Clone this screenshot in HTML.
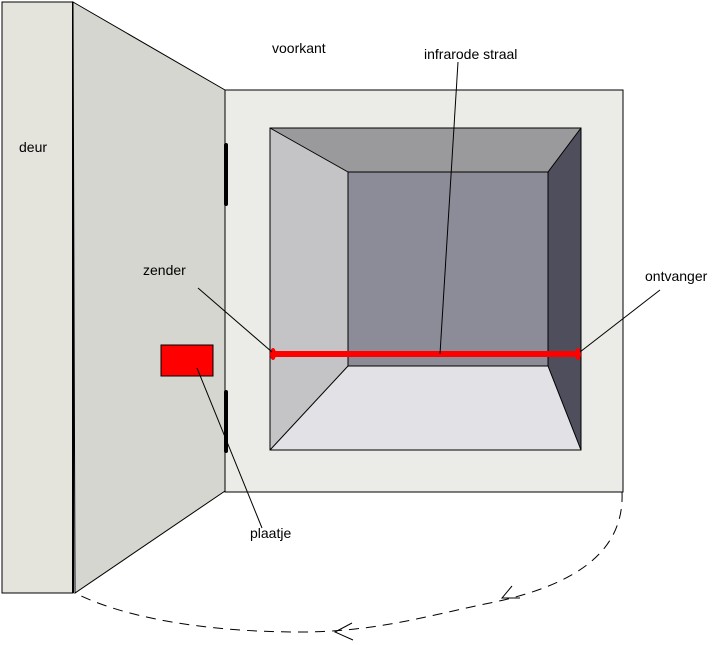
<!DOCTYPE html>
<html><head><meta charset="utf-8"><style>
html,body{margin:0;padding:0;background:#fff;}
svg{display:block;}
text{font-family:"Liberation Sans",sans-serif;font-size:14px;fill:#000;}
</style></head><body>
<svg width="724" height="645" viewBox="0 0 724 645">
<rect x="2" y="2" width="71" height="591" fill="#e4e4dc" stroke="#000" stroke-width="1"/>
<line x1="73" y1="2" x2="73" y2="593" stroke="#000" stroke-width="2"/>
<polygon points="73,2 225,90 225,491 75,593" fill="#d6d6d0" stroke="#000" stroke-width="1"/>
<rect x="225" y="90" width="398" height="402" fill="#ebebe8" stroke="#000" stroke-width="1"/>
<rect x="270" y="128" width="311" height="322" fill="#bfbfc0"/>
<polygon points="270,128 581,128 548,172 348,172" fill="#9a9a9c"/>
<polygon points="581,128 581,450 548,366 548,172" fill="#4e4e5c"/>
<polygon points="270,450 581,450 548,366 348,366" fill="#e2e2e6"/>
<polygon points="270,128 348,172 348,366 270,450" fill="#c4c4c6"/>
<rect x="348" y="172" width="200" height="194" fill="#8c8c98" stroke="#000" stroke-width="1"/>
<line x1="270" y1="128" x2="348" y2="172" stroke="#000"/>
<line x1="581" y1="128" x2="548" y2="172" stroke="#000"/>
<line x1="270" y1="450" x2="348" y2="366" stroke="#000"/>
<line x1="581" y1="450" x2="548" y2="366" stroke="#000"/>
<rect x="270" y="128" width="311" height="322" fill="none" stroke="#000" stroke-width="1"/>
<line x1="226" y1="145" x2="226" y2="204" stroke="#000" stroke-width="4" stroke-linecap="round"/>
<line x1="226" y1="392" x2="226" y2="451" stroke="#000" stroke-width="4" stroke-linecap="round"/>
<rect x="274" y="351" width="304" height="6" fill="#f00"/>
<ellipse cx="273" cy="354" rx="3" ry="6" fill="#f00"/>
<ellipse cx="578" cy="354" rx="3" ry="6" fill="#f00"/>
<rect x="161" y="345" width="52" height="31" fill="#f00" stroke="#000" stroke-width="1"/>
<line x1="198" y1="288" x2="272" y2="352" stroke="#000"/>
<line x1="660" y1="290" x2="580" y2="352" stroke="#000"/>
<line x1="458" y1="62" x2="440" y2="354" stroke="#000"/>
<line x1="197" y1="368" x2="262" y2="528" stroke="#000"/>
<path d="M622,492 C625,560 560,590 480,605 C420,618 370,632 300,632 C200,632 120,616 75,593" fill="none" stroke="#000" stroke-width="1" stroke-dasharray="10,7"/>
<path d="M512,586 L502,598 L520,598" fill="none" stroke="#000"/>
<path d="M352,623 L335,632 L353,640" fill="none" stroke="#000"/>
<text x="19" y="152">deur</text>
<text x="272" y="53">voorkant</text>
<text x="424" y="59">infrarode straal</text>
<text x="143" y="275">zender</text>
<text x="645" y="281">ontvanger</text>
<text x="250" y="538">plaatje</text>
</svg>
</body></html>
